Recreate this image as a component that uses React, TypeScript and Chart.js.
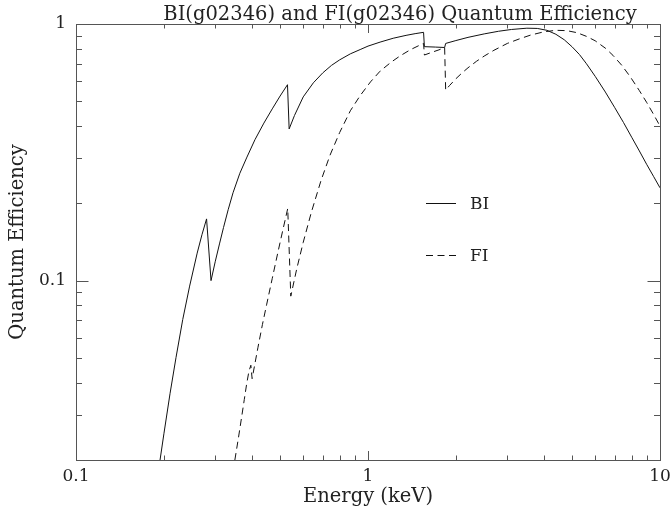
import React, { useEffect, useRef } from "react";
import { Chart, registerables } from "chart.js";

Chart.register(...registerables);

// Back-illuminated CCD quantum efficiency vs. photon energy (keV)
const biEnergy = [
  0.194, 0.2, 0.21, 0.22, 0.232, 0.245, 0.26, 0.27, 0.28,
  0.29, 0.3, 0.31, 0.32, 0.332, 0.345, 0.364, 0.385, 0.41, 0.44, 0.47, 0.5, 0.53,
  0.537, 0.56, 0.6, 0.65, 0.7, 0.75, 0.8, 0.87, 0.94, 1.0, 1.1, 1.22, 1.35, 1.45, 1.55,
  1.56, 1.7, 1.83,
  1.845, 2.0, 2.2, 2.5, 2.8, 3.1, 3.5, 3.8, 4.1, 4.4, 4.7, 5.0, 5.3, 5.6, 6.0, 6.5, 7.0, 7.5, 8.0, 8.5, 9.0, 9.5, 10,
];
const biQE = [
  0.02, 0.0253, 0.0364, 0.0501, 0.0705, 0.0952, 0.128, 0.151, 0.174,
  0.1, 0.119, 0.139, 0.161, 0.189, 0.22, 0.262, 0.303, 0.354, 0.411, 0.467, 0.524, 0.58,
  0.39, 0.44, 0.52, 0.59, 0.645, 0.69, 0.725, 0.765, 0.795, 0.82, 0.85, 0.88, 0.903, 0.917, 0.928,
  0.816, 0.813, 0.81,
  0.84, 0.862, 0.887, 0.915, 0.937, 0.952, 0.963, 0.961, 0.945, 0.912, 0.868, 0.815, 0.76, 0.7, 0.625, 0.543, 0.472, 0.413, 0.362, 0.32, 0.284, 0.255, 0.23,
];

// Front-illuminated CCD quantum efficiency vs. photon energy (keV)
const fiEnergy = [
  0.35, 0.36, 0.369, 0.377, 0.384, 0.391, 0.397,
  0.401, 0.41, 0.42, 0.435, 0.45, 0.47, 0.49, 0.51, 0.531,
  0.544, 0.57, 0.6, 0.64, 0.69, 0.741, 0.8, 0.87, 0.939, 1.02, 1.1, 1.2, 1.29, 1.4, 1.55,
  1.56, 1.65, 1.75, 1.83,
  1.845, 1.9, 2.0, 2.1, 2.2, 2.35, 2.5, 2.7, 3.0, 3.3, 3.6, 4.0, 4.4, 4.8, 5.2, 5.6, 6.0, 6.5, 6.9, 7.4, 7.9, 8.5, 9.0, 9.5, 10,
];
const fiQE = [
  0.02, 0.0244, 0.0293, 0.0344, 0.0395, 0.0443, 0.0468,
  0.0415, 0.0475, 0.055, 0.0675, 0.081, 0.102, 0.127, 0.156, 0.191,
  0.087, 0.111, 0.141, 0.185, 0.245, 0.308, 0.378, 0.459, 0.525, 0.595, 0.655, 0.71, 0.752, 0.795, 0.841,
  0.757, 0.775, 0.793, 0.81,
  0.553, 0.575, 0.612, 0.645, 0.675, 0.715, 0.75, 0.79, 0.84, 0.875, 0.905, 0.932, 0.945, 0.942, 0.925, 0.895, 0.86, 0.805, 0.755, 0.69, 0.624, 0.55, 0.495, 0.445, 0.4,
];

const xMajorTicks = [0.1, 1, 10];
const xMinorTicks = [0.2, 0.3, 0.4, 0.5, 0.6, 0.7, 0.8, 0.9, 2, 3, 4, 5, 6, 7, 8, 9];
const yMajorTicks = [0.1, 1];
const yMinorTicks = [0.03, 0.04, 0.05, 0.06, 0.07, 0.08, 0.09, 0.2, 0.3, 0.4, 0.5, 0.6, 0.7, 0.8, 0.9];

const chartTitle = "BI(g02346) and FI(g02346) Quantum Efficiency";
const xTitle = "Energy (keV)";
const yTitle = "Quantum Efficiency";
const seriesNames = ["BI", "FI"];

const FONT = "'DejaVu Serif', serif";
const INK = "#222";
const FRAME = "#555";
const DASH = [7, 4.5];

const toPoints = (xs: number[], ys: number[]) => xs.map((x, i) => ({ x, y: ys[i] }));

const framePlugin = {
  id: "pgframe",
  afterDraw(chart: any) {
    const { ctx, chartArea: a, scales } = chart;
    const xs = scales.x;
    const ys = scales.y;
    ctx.save();
    ctx.strokeStyle = FRAME;
    ctx.lineWidth = 1;
    ctx.strokeRect(a.left + 0.5, a.top + 0.5, a.right - a.left, a.bottom - a.top);

    const xTick = (v: number, len: number) => {
      const px = Math.round(xs.getPixelForValue(v)) + 0.5;
      ctx.beginPath();
      ctx.moveTo(px, a.bottom);
      ctx.lineTo(px, a.bottom - len);
      ctx.moveTo(px, a.top);
      ctx.lineTo(px, a.top + len);
      ctx.stroke();
    };
    const yTick = (v: number, len: number) => {
      const py = Math.round(ys.getPixelForValue(v)) + 0.5;
      ctx.beginPath();
      ctx.moveTo(a.left, py);
      ctx.lineTo(a.left + len, py);
      ctx.moveTo(a.right, py);
      ctx.lineTo(a.right - len, py);
      ctx.stroke();
    };
    xMajorTicks.forEach((v) => xTick(v, 9));
    xMinorTicks.forEach((v) => xTick(v, 4.5));
    yMajorTicks.forEach((v) => yTick(v, 12.5));
    yMinorTicks.forEach((v) => yTick(v, 6));

    // title
    ctx.fillStyle = INK;
    ctx.font = `19.5px ${FONT}`;
    ctx.textAlign = "center";
    ctx.textBaseline = "alphabetic";
    ctx.fillText(chartTitle, 400, 20);

    // key
    const ds = chart.data.datasets;
    const keyRows = [203.5, 255.5];
    ctx.font = `17px ${FONT}`;
    ctx.textAlign = "left";
    ctx.textBaseline = "middle";
    keyRows.forEach((yy, i) => {
      ctx.strokeStyle = ds[i].borderColor;
      ctx.lineWidth = ds[i].borderWidth;
      ctx.setLineDash(ds[i].borderDash || []);
      ctx.beginPath();
      ctx.moveTo(426, yy);
      ctx.lineTo(456, yy);
      ctx.stroke();
      ctx.setLineDash([]);
      ctx.fillStyle = INK;
      ctx.fillText(seriesNames[i], 470, yy + 1);
    });
    ctx.restore();
  },
};

export default function App() {
  const ref = useRef<HTMLCanvasElement | null>(null);

  useEffect(() => {
    document.body.style.margin = "0";
    const canvas = ref.current;
    if (!canvas) return;
    const chart = new Chart(canvas, {
      type: "line",
      data: {
        datasets: [
          {
            label: seriesNames[0],
            data: toPoints(biEnergy, biQE),
            borderColor: "#111",
            borderWidth: 1,
            pointRadius: 0,
            tension: 0,
            fill: false,
          },
          {
            label: seriesNames[1],
            data: toPoints(fiEnergy, fiQE),
            borderColor: "#111",
            borderWidth: 1,
            borderDash: DASH,
            pointRadius: 0,
            tension: 0,
            fill: false,
          },
        ],
      },
      options: {
        responsive: false,
        animation: false,
        devicePixelRatio: 1,
        layout: { padding: { left: 0, top: 24, right: 11, bottom: 0 } },
        plugins: {
          legend: { display: false },
          title: { display: false },
          tooltip: { enabled: false },
        },
        events: [],
        scales: {
          x: {
            type: "logarithmic",
            min: 0.1,
            max: 10,
            grid: { display: false, drawTicks: false },
            border: { display: false },
            afterBuildTicks: (s: any) => {
              s.ticks = xMajorTicks.map((v) => ({ value: v }));
            },
            afterFit: (s: any) => {
              s.height = 50;
              s.paddingLeft = 0;
              s.paddingRight = 0;
            },
            ticks: {
              autoSkip: false,
              maxRotation: 0,
              padding: 6,
              color: INK,
              font: { family: FONT, size: 17 },
              callback: (v: any) => String(v),
            },
            title: {
              display: true,
              text: xTitle,
              color: INK,
              font: { family: FONT, size: 19.5 },
              padding: { top: 0, bottom: 1 },
            },
          },
          y: {
            type: "logarithmic",
            min: 0.02,
            max: 1,
            grid: { display: false, drawTicks: false },
            border: { display: false },
            afterBuildTicks: (s: any) => {
              s.ticks = yMajorTicks.map((v) => ({ value: v }));
            },
            afterFit: (s: any) => {
              s.width = 76;
              s.paddingTop = 0;
              s.paddingBottom = 0;
            },
            ticks: {
              autoSkip: false,
              padding: 10,
              color: INK,
              font: { family: FONT, size: 17 },
              callback: (v: any) => String(v),
            },
            title: {
              display: true,
              text: yTitle,
              color: INK,
              font: { family: FONT, size: 19.5 },
              padding: { top: 6, bottom: 0 },
            },
          },
        },
      },
      plugins: [framePlugin],
    } as any);
    return () => chart.destroy();
  }, []);

  return (
    <div style={{ position: "absolute", left: 0, top: 0, width: 671, height: 510, background: "#fff" }}>
      <canvas ref={ref} width={671} height={510} />
    </div>
  );
}
